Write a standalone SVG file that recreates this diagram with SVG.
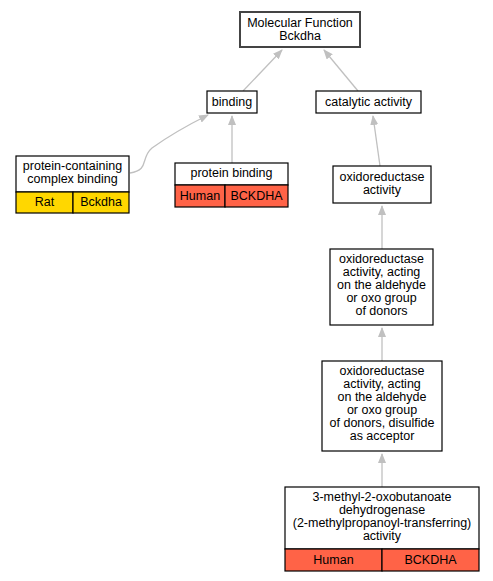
<svg xmlns="http://www.w3.org/2000/svg" width="493" height="581" viewBox="0 0 493 581">
<style>
text{font-family:"Liberation Sans",Arial,sans-serif;font-size:12.5px;fill:#000;text-anchor:middle}
.n{fill:#fff;stroke:#000;stroke-width:1.2}
.r{fill:#fff;stroke:#444;stroke-width:2}
.red{fill:#ff6347;stroke:#000;stroke-width:1.2}
.yel{fill:#ffd700;stroke:#000;stroke-width:1.2}
.e{fill:none;stroke:#c0c0c0;stroke-width:1.3;marker-end:url(#a)}
</style>
<defs>
<marker id="a" markerWidth="10" markerHeight="8" refX="9" refY="4" orient="auto" markerUnits="userSpaceOnUse">
<path d="M0,0 L10,4 L0,8 Z" fill="#c0c0c0"/>
</marker>
</defs>
<g id="connectors">
<path class="e" d="M243,91 L282,50"/>
<path class="e" d="M358,91 L324,50"/>
<path class="e" d="M232,163 L232,116"/>
<path class="e" d="M130,173 C150,170 140,158 152,148 C170,135 190,124 208,115"/>
<path class="e" d="M380,166 L373,116"/>
<path class="e" d="M382,249 L382,206"/>
<path class="e" d="M382,361 L382,328"/>
<path class="e" d="M382,487 L382,454"/>
</g>
<g id="root">
<rect class="r" x="240" y="12" width="120" height="35"/>
<text x="300" y="27">Molecular Function</text>
<text x="300" y="40">Bckdha</text>
</g>
<g id="binding">
<rect class="n" x="207" y="91" width="50" height="22"/>
<text x="232" y="106">binding</text>
</g>
<g id="catalytic">
<rect class="n" x="316" y="91" width="105" height="22"/>
<text x="368.5" y="106">catalytic activity</text>
</g>
<g id="pcb">
<rect class="n" x="16" y="156" width="113" height="36"/>
<text x="72.5" y="170">protein-containing</text>
<text x="72.5" y="183">complex binding</text>
<rect class="yel" x="16" y="192" width="57" height="21"/>
<rect class="yel" x="73" y="192" width="56" height="21"/>
<text x="44.5" y="206">Rat</text>
<text x="101" y="206">Bckdha</text>
</g>
<g id="pb">
<rect class="n" x="175" y="163" width="113" height="22"/>
<text x="231.5" y="177">protein binding</text>
<rect class="red" x="175" y="185" width="50" height="22"/>
<rect class="red" x="225" y="185" width="63" height="22"/>
<text x="200" y="200">Human</text>
<text x="256.5" y="200">BCKDHA</text>
</g>
<g id="oxido">
<rect class="n" x="333" y="166" width="98" height="37"/>
<text x="382" y="181">oxidoreductase</text>
<text x="382" y="194">activity</text>
</g>
<g id="oxald">
<rect class="n" x="330" y="249" width="103" height="76"/>
<text x="381.5" y="263">oxidoreductase</text>
<text x="381.5" y="276">activity, acting</text>
<text x="381.5" y="289">on the aldehyde</text>
<text x="381.5" y="302">or oxo group</text>
<text x="381.5" y="315">of donors</text>
</g>
<g id="oxdis">
<rect class="n" x="322" y="361" width="120" height="90"/>
<text x="382" y="375">oxidoreductase</text>
<text x="382" y="388">activity, acting</text>
<text x="382" y="401">on the aldehyde</text>
<text x="382" y="414">or oxo group</text>
<text x="382" y="427">of donors, disulfide</text>
<text x="382" y="440">as acceptor</text>
</g>
<g id="bottom">
<rect class="n" x="285" y="487" width="194" height="62"/>
<text x="382" y="501">3-methyl-2-oxobutanoate</text>
<text x="382" y="514">dehydrogenase</text>
<text x="382" y="527">(2-methylpropanoyl-transferring)</text>
<text x="382" y="540">activity</text>
<rect class="red" x="285" y="549" width="97" height="22"/>
<rect class="red" x="382" y="549" width="97" height="22"/>
<text x="333.5" y="564">Human</text>
<text x="430.5" y="564">BCKDHA</text>
</g>
</svg>
